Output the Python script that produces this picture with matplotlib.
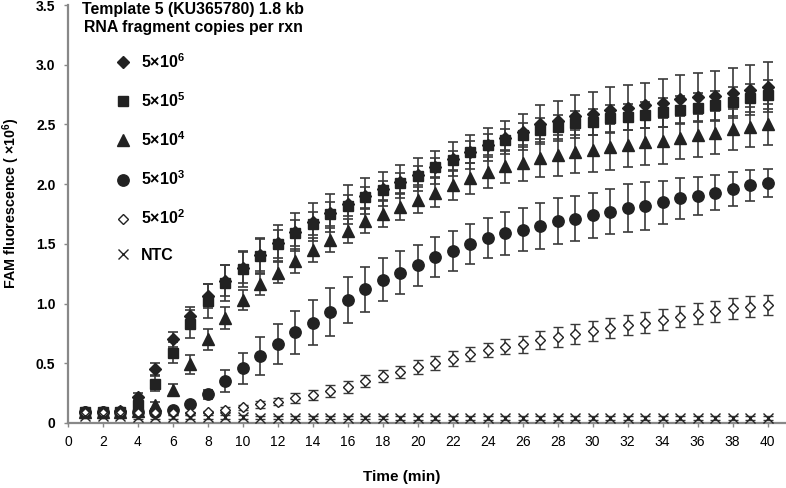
import matplotlib

matplotlib.use("Agg")
import matplotlib.pyplot as plt
import numpy as np

plt.rcParams["font.family"] = ["Liberation Sans", "DejaVu Sans"]
plt.rcParams["mathtext.fontset"] = "custom"
plt.rcParams["mathtext.rm"] = "Liberation Sans"
plt.rcParams["mathtext.bf"] = "Liberation Sans:bold"

time_min = np.arange(1, 41)

labels = [r"5×10$^{\mathbf{6}}$", r"5×10$^{\mathbf{5}}$", r"5×10$^{\mathbf{4}}$",
          r"5×10$^{\mathbf{3}}$", r"5×10$^{\mathbf{2}}$", "NTC"]

copies_5e6 = [0.09, 0.09, 0.10, 0.22, 0.45, 0.70, 0.90, 1.06, 1.19, 1.30,
              1.41, 1.51, 1.60, 1.68, 1.76, 1.83, 1.90, 1.96, 2.02, 2.08,
              2.14, 2.21, 2.27, 2.33, 2.39, 2.44, 2.50, 2.53, 2.57, 2.59,
              2.62, 2.64, 2.66, 2.68, 2.71, 2.73, 2.74, 2.76, 2.79, 2.81]
err_5e6 = [0.01, 0.01, 0.01, 0.03, 0.05, 0.06, 0.07, 0.10, 0.13, 0.13,
           0.14, 0.15, 0.16, 0.16, 0.16, 0.16, 0.15, 0.14, 0.14, 0.14,
           0.14, 0.14, 0.14, 0.14, 0.14, 0.15, 0.16, 0.17, 0.18, 0.18,
           0.19, 0.19, 0.19, 0.20, 0.20, 0.20, 0.21, 0.21, 0.21, 0.21]

copies_5e5 = [0.09, 0.09, 0.09, 0.15, 0.33, 0.59, 0.83, 1.02, 1.17, 1.29,
              1.40, 1.50, 1.59, 1.67, 1.75, 1.82, 1.89, 1.95, 2.01, 2.07,
              2.14, 2.20, 2.27, 2.33, 2.37, 2.41, 2.45, 2.48, 2.51, 2.52,
              2.55, 2.56, 2.58, 2.60, 2.62, 2.64, 2.66, 2.69, 2.72, 2.75]
err_5e5 = [0.01, 0.01, 0.01, 0.03, 0.06, 0.09, 0.12, 0.14, 0.15, 0.15,
           0.14, 0.12, 0.11, 0.10, 0.10, 0.09, 0.09, 0.08, 0.08, 0.08,
           0.08, 0.08, 0.09, 0.09, 0.09, 0.10, 0.10, 0.10, 0.10, 0.11,
           0.11, 0.11, 0.11, 0.12, 0.12, 0.12, 0.12, 0.12, 0.12, 0.12]

copies_5e4 = [0.09, 0.09, 0.09, 0.10, 0.15, 0.28, 0.49, 0.70, 0.88, 1.03,
              1.16, 1.26, 1.36, 1.45, 1.53, 1.61, 1.69, 1.75, 1.81, 1.87,
              1.93, 1.99, 2.05, 2.10, 2.15, 2.18, 2.22, 2.24, 2.27, 2.29,
              2.31, 2.33, 2.35, 2.36, 2.39, 2.41, 2.43, 2.46, 2.48, 2.50]
err_5e4 = [0.01, 0.01, 0.01, 0.01, 0.03, 0.05, 0.08, 0.09, 0.09, 0.08,
           0.09, 0.09, 0.10, 0.10, 0.10, 0.10, 0.10, 0.11, 0.11, 0.11,
           0.12, 0.12, 0.13, 0.13, 0.14, 0.15, 0.16, 0.17, 0.18, 0.19,
           0.19, 0.19, 0.19, 0.19, 0.18, 0.18, 0.18, 0.17, 0.17, 0.17]

copies_5e3 = [0.09, 0.09, 0.09, 0.09, 0.09, 0.11, 0.16, 0.24, 0.35, 0.46,
              0.56, 0.66, 0.76, 0.84, 0.93, 1.03, 1.12, 1.20, 1.26, 1.32,
              1.39, 1.44, 1.50, 1.55, 1.59, 1.62, 1.65, 1.69, 1.71, 1.74,
              1.77, 1.80, 1.82, 1.85, 1.88, 1.90, 1.93, 1.96, 1.99, 2.01]
err_5e3 = [0.01, 0.01, 0.01, 0.01, 0.01, 0.01, 0.02, 0.04, 0.09, 0.13,
           0.16, 0.17, 0.18, 0.19, 0.20, 0.19, 0.19, 0.18, 0.18, 0.17,
           0.17, 0.17, 0.17, 0.17, 0.18, 0.18, 0.19, 0.19, 0.19, 0.19,
           0.19, 0.20, 0.20, 0.18, 0.17, 0.16, 0.15, 0.14, 0.13, 0.12]

copies_5e2 = [0.08, 0.08, 0.08, 0.08, 0.08, 0.08, 0.08, 0.09, 0.11, 0.13,
              0.155, 0.18, 0.21, 0.235, 0.27, 0.305, 0.35, 0.39, 0.43, 0.47,
              0.505, 0.54, 0.575, 0.61, 0.64, 0.66, 0.695, 0.72, 0.745, 0.77,
              0.795, 0.82, 0.84, 0.865, 0.89, 0.915, 0.935, 0.96, 0.975, 0.99]
err_5e2 = [0.01, 0.01, 0.01, 0.01, 0.01, 0.01, 0.01, 0.01, 0.02, 0.02,
           0.03, 0.03, 0.04, 0.04, 0.05, 0.05, 0.05, 0.05, 0.05, 0.06,
           0.06, 0.06, 0.06, 0.06, 0.065, 0.07, 0.075, 0.08, 0.085, 0.087,
           0.087, 0.087, 0.087, 0.087, 0.087, 0.087, 0.086, 0.085, 0.085, 0.085]

ntc = [0.06, 0.06, 0.06, 0.05, 0.05, 0.05, 0.05, 0.05, 0.05, 0.05,
       0.045, 0.045, 0.045, 0.045, 0.045, 0.045, 0.045, 0.045, 0.04, 0.04,
       0.04, 0.04, 0.04, 0.04, 0.04, 0.04, 0.04, 0.04, 0.04, 0.04,
       0.04, 0.04, 0.04, 0.04, 0.04, 0.04, 0.04, 0.04, 0.04, 0.04]
err_ntc = [0.015] * 40

series = [
    (copies_5e6, err_5e6, dict(marker="D", ms=5.7, mfc="#222222", mec="#222222")),
    (copies_5e5, err_5e5, dict(marker="s", ms=7.5, mfc="#222222", mec="#222222")),
    (copies_5e4, err_5e4, dict(marker="^", ms=9, mfc="#222222", mec="#222222")),
    (copies_5e3, err_5e3, dict(marker="o", ms=8.2, mfc="#222222", mec="#222222")),
    (copies_5e2, err_5e2, dict(marker="D", ms=5.4, mfc="white", mec="#222222", mew=1.0)),
    (ntc, err_ntc, dict(marker="x", ms=7.2, mfc="#222222", mec="#222222", mew=1.0)),
]

fig = plt.figure(figsize=(7.86, 4.88), dpi=100)
ax = fig.add_axes([68 / 786, 65 / 488, 717 / 786, 418 / 488])

handles = []
for values, errs, style in series:
    cont = ax.errorbar(
        time_min, values, yerr=errs, linestyle="none",
        ecolor="#3a3a3a", elinewidth=1.2, capsize=3.5, capthick=1.2,
        zorder=3, **style,
    )
    handles.append(cont[0])

ax.set_xlim(0, 41)
ax.set_ylim(0, 3.5)
ax.set_xticks(np.arange(0, 41, 2))
ax.set_yticks([0, 0.5, 1.0, 1.5, 2.0, 2.5, 3.0, 3.5])
ax.set_yticklabels(["0", "0.5", "1.0", "1.5", "2.0", "2.5", "3.0", "3.5"], fontweight="bold")
ax.tick_params(axis="both", direction="out", length=3, width=1.0, color="#888888",
               labelsize=10, pad=6)
for side in ("top", "right"):
    ax.spines[side].set_visible(False)
for side in ("left", "bottom"):
    ax.spines[side].set_color("#888888")
    ax.spines[side].set_linewidth(1.6)

ax.set_xlabel("Time (min)", fontsize=11, fontweight="bold")
ax.xaxis.set_label_coords(0.466, -0.113)
ax.set_ylabel(r"FAM fluorescence ( ×10$^{\mathbf{6}}$)", fontsize=10.3, fontweight="bold")
ax.yaxis.set_label_coords(-0.064, 0.527)

fig.text(193 / 786, 1 - 14 / 488, "Template 5 (KU365780) 1.8 kb",
         ha="center", va="baseline", fontsize=11.4, fontweight="bold")
fig.text(193 / 786, 1 - 31.7 / 488, "RNA fragment copies per rxn",
         ha="center", va="baseline", fontsize=11.4, fontweight="bold")

ax.legend(
    handles, labels, loc="upper left", bbox_to_anchor=(114 / 786, 1 - 52 / 488),
    bbox_transform=fig.transFigure, frameon=False, borderpad=0, borderaxespad=0,
    handlelength=1.1, handletextpad=0.6, labelspacing=1.28,
    prop=dict(weight="bold", size=11.5),
)

fig.savefig("out.png", dpi=100)
